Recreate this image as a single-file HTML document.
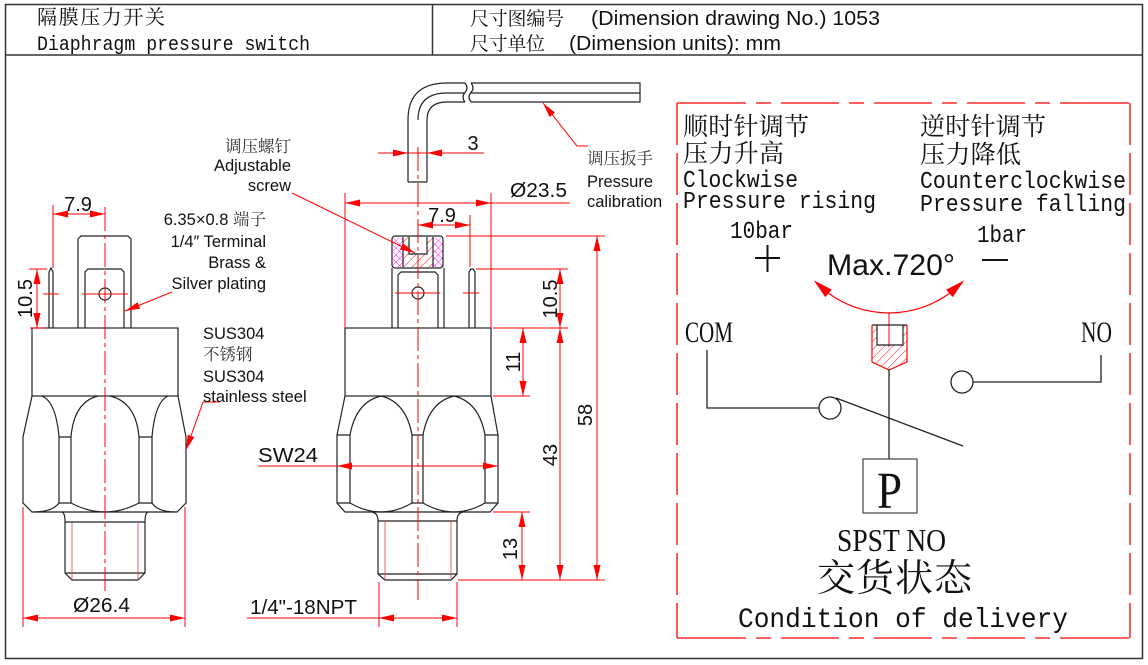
<!DOCTYPE html>
<html><head><meta charset="utf-8">
<style>
html,body{margin:0;padding:0;background:#fff;}
svg{display:block;}
</style></head><body>
<svg width="1148" height="665" viewBox="0 0 1148 665" xmlns="http://www.w3.org/2000/svg">
<defs>
<pattern id="rh" width="6" height="6" patternUnits="userSpaceOnUse" patternTransform="rotate(45)"><line x1="0" y1="0" x2="0" y2="6" stroke="#f00" stroke-width="1"/></pattern>
<pattern id="mh" width="5" height="5" patternUnits="userSpaceOnUse" patternTransform="rotate(45)"><line x1="0" y1="0" x2="0" y2="5" stroke="#f0f" stroke-width="0.9"/><line x1="0" y1="0" x2="5" y2="0" stroke="#f0f" stroke-width="0.9"/></pattern>
</defs>
<rect width="1148" height="665" fill="#fff"/>

<!-- Frame -->
<g stroke="#333" stroke-width="1.5" fill="none">
<rect x="5.5" y="4.5" width="1137" height="654"/>
<line x1="5" y1="55" x2="1142" y2="55"/>
<line x1="432.5" y1="4" x2="432.5" y2="55"/>
</g>

<!-- Header texts -->
<g fill="#111">
<text x="37" y="24" font-family="'Noto Serif CJK SC','Noto Sans CJK SC',serif" font-size="20" textLength="128">隔膜压力开关</text>
<text x="37" y="50" font-family="'Liberation Mono',monospace" font-size="20" textLength="273" lengthAdjust="spacingAndGlyphs">Diaphragm pressure switch</text>
<text x="470" y="25" font-family="'Noto Serif CJK SC','Noto Sans CJK SC',serif" font-size="19" textLength="94">尺寸图编号</text>
<text x="591" y="25" font-family="'Liberation Sans',Arial,sans-serif" font-size="20" textLength="289" lengthAdjust="spacingAndGlyphs">(Dimension drawing No.) 1053</text>
<text x="470" y="50" font-family="'Noto Serif CJK SC','Noto Sans CJK SC',serif" font-size="19" textLength="75">尺寸单位</text>
<text x="569" y="50" font-family="'Liberation Sans',Arial,sans-serif" font-size="20" textLength="212" lengthAdjust="spacingAndGlyphs">(Dimension units): mm</text>
</g>

<!-- LEFT VIEW black -->
<g stroke="#222" stroke-width="1.2" fill="none">
<path d="M78,328 V239 L81,236 H128 L131,239 V328"/>
<path d="M85,328 V272 L88,269 H121 L124,272 V328"/>
<circle cx="105" cy="294" r="6"/>
<path d="M49,328 V272 L51,268 L53,272 V328"/>
<rect x="32" y="328" width="146" height="68"/>
<path d="M32,396 L23,437 V503 L32,512 H177 L186,503 V437 L178,396"/>
<path d="M59,437 V503 M71,437 V503 M59,437 H71 M59,503 H71 M139,437 V503 M152,437 V503 M139,437 H152 M139,503 H152"/>
<path d="M42,396 Q56,402 59,437 M71,437 Q74,402 98,396 M110,396 Q136,402 139,437 M152,437 Q155,402 168,396"/>
<path d="M59,503 Q52,512 34,512 M71,503 Q105,521 139,503 M152,503 Q158,512 175,512"/>
<path d="M62,512 Q65,513 65,522 V573 L72,580 H138 L145,573 V522 Q145,513 148,512 M65,522 H145 M65,573 H145"/>
</g>
<path d="M72,522 V580 M138,522 V580" stroke="#d44" stroke-width="0.8" fill="none"/>

<!-- MIDDLE VIEW black -->
<g stroke="#222" stroke-width="1.2" fill="none">
<path d="M408,182 V120 Q408,83 447,83 H465 M427,182 V120 Q427,102 447,102 H465 M418,120 Q418,93 447,93 H465 M408,182 H427"/>
<path d="M465,83 Q469,88 465,92.5 Q461,97 465,102 M471,83 Q475,88 471,92.5 Q467,97 471,102"/>
<path d="M471,83 H640 V102 H471 M471,93 H640"/>
<path d="M392,328 V268 M444,328 V268"/>
<path d="M398,328 V275 L401,272 H435 L438,275 V328"/>
<circle cx="418" cy="293" r="6"/>
<path d="M469,328 V272 L471,269 H473 L475,272 V328"/>
</g>
<path d="M393,238 H403 V267 H393 Z M433,238 H443 V267 H433 Z" fill="url(#mh)"/>
<path d="M403,237 H433 V267 H403 Z M409,237 V254 H427 V237 Z" fill="url(#rh)" fill-rule="evenodd"/>
<g stroke="#222" stroke-width="1.2" fill="none">
<rect x="392" y="236" width="51" height="32" rx="3"/>
<path d="M409,237 V254 H427 V237"/>
<path d="M403,237 V267 M433,237 V267"/>
<rect x="345" y="328" width="146" height="68"/>
<path d="M345,396 L337,435 V503 L345,512 H490 L498,503 V435 L491,396"/>
<path d="M337,435 H350 M337,503 H350 M350,435 V503 M412,435 V503 M423,435 V503 M412,435 H423 M412,503 H423 M485,435 V503 M485,435 H498 M485,503 H498"/>
<path d="M350,435 Q356,402 381,396 Q406,402 412,435 M423,435 Q429,402 454,396 Q479,402 485,435"/>
<path d="M350,503 Q381,521 412,503 M423,503 Q454,521 485,503"/>
<path d="M372,512 Q378,513 378,521 V574 L385,580 H451 L457,574 V521 Q457,513 463,512 M378,521 H457 M378,574 H457"/>
</g>
<path d="M385,521 V580 M451,521 V580" stroke="#d44" stroke-width="0.8" fill="none"/>

<!-- RED dimension lines -->
<g stroke="#f00" stroke-width="1" fill="none">
<line x1="105" y1="207" x2="105" y2="592" stroke-dasharray="24 4 4 4"/>
<line x1="418" y1="147" x2="418" y2="600" stroke-dasharray="24 4 4 4"/>
<path d="M82,294 H128 M43,294 H59"/>
<path d="M53,205 V268 M53,214 H105"/>
<path d="M29,269 H47 M30,328 H45 M37,269 V328"/>
<path d="M172,292 L125,311"/>
<path d="M220,402 H203 L186,450"/>
<path d="M23,507 V627 M185,507 V627 M23,618 H185"/>
<path d="M378,153 H484"/>
<path d="M588,146 H577 L543,103"/>
<path d="M345,193 V328 M491,193 V328 M345,203 H570"/>
<path d="M470,215 V267 M418,225 H470"/>
<path d="M292,193 L415,253"/>
<path d="M395,293 H440 M463,293 H479"/>
<path d="M446,236 H605 M476,269 H568 M493,328 H568 M493,396 H530 M493,512 H530 M458,580 H605"/>
<path d="M597,236 V580 M560,269 V580 M523,328 V396 M522,512 V580"/>
<path d="M258,466 H498"/>
<path d="M247,618 H457 M379,582 V627 M457,582 V627"/>
</g>
<g fill="#f00">
<polygon points="53,214 68,210.5 68,217.5"/>
<polygon points="105,214 90,210.5 90,217.5"/>
<polygon points="37,269 33.5,284 40.5,284"/>
<polygon points="37,328 33.5,313 40.5,313"/>
<polygon points="125,311 140.2,308.6 137.6,302.2"/>
<polygon points="186,450 194.3,437.1 187.7,434.7"/>
<polygon points="23,618 38,614.5 38,621.5"/>
<polygon points="185,618 170,614.5 170,621.5"/>
<polygon points="408,153 393,149.5 393,156.5"/>
<polygon points="427,153 442,149.5 442,156.5"/>
<polygon points="543,103 555.05,112.6 549.55,116.97"/>
<polygon points="345,203 360,199.5 360,206.5"/>
<polygon points="491,203 476,199.5 476,206.5"/>
<polygon points="418,225 433,221.5 433,228.5"/>
<polygon points="470,225 455,221.5 455,228.5"/>
<polygon points="415,253 399.97,249.54 403.03,243.26"/>
<polygon points="597,236 593.5,251 600.5,251"/>
<polygon points="597,580 593.5,565 600.5,565"/>
<polygon points="560,269 556.5,284 563.5,284"/>
<polygon points="560,328 556.5,313 563.5,313"/>
<polygon points="560,328 556.5,343 563.5,343"/>
<polygon points="560,580 556.5,565 563.5,565"/>
<polygon points="523,328 519.5,343 526.5,343"/>
<polygon points="523,396 519.5,381 526.5,381"/>
<polygon points="522,512 518.5,527 525.5,527"/>
<polygon points="522,580 518.5,565 525.5,565"/>
<polygon points="337,466 352,462.5 352,469.5"/>
<polygon points="498,466 483,462.5 483,469.5"/>
<polygon points="379,618 394,614.5 394,621.5"/>
<polygon points="457,618 442,614.5 442,621.5"/>
</g>

<!-- Dimension texts -->
<g font-family="'Liberation Sans',Arial,sans-serif" font-size="20" fill="#111">
<text x="78" y="211" text-anchor="middle">7.9</text>
<text transform="translate(32,298.5) rotate(-90)" text-anchor="middle">10.5</text>
<text x="73" y="612" textLength="57" lengthAdjust="spacingAndGlyphs">Ø26.4</text>
<text x="473" y="150" text-anchor="middle">3</text>
<text x="510" y="197" textLength="57" lengthAdjust="spacingAndGlyphs">Ø23.5</text>
<text x="442" y="222" text-anchor="middle">7.9</text>
<text x="258" y="462" textLength="60" lengthAdjust="spacingAndGlyphs">SW24</text>
<text x="250" y="614" textLength="107" lengthAdjust="spacingAndGlyphs">1/4"-18NPT</text>
<text transform="translate(557,299) rotate(-90)" text-anchor="middle">10.5</text>
<text transform="translate(520,362) rotate(-90)" text-anchor="middle">11</text>
<text transform="translate(592,415) rotate(-90)" text-anchor="middle">58</text>
<text transform="translate(557,455) rotate(-90)" text-anchor="middle">43</text>
<text transform="translate(517,549) rotate(-90)" text-anchor="middle">13</text>
</g>

<!-- Callout texts -->
<g font-family="'Liberation Sans',Arial,sans-serif" font-size="16.5" fill="#111">
<text x="266" y="225" text-anchor="end">6.35×0.8 <tspan font-family="'Noto Serif CJK SC','Noto Sans CJK SC',serif" fill="#333">端子</tspan></text>
<text x="266" y="247" text-anchor="end">1/4″ Terminal</text>
<text x="266" y="268" text-anchor="end">Brass &amp;</text>
<text x="266" y="289" text-anchor="end">Silver plating</text>
<text x="203" y="339">SUS304</text>
<text x="203" y="360" font-family="'Noto Serif CJK SC','Noto Sans CJK SC',serif" fill="#333">不锈钢</text>
<text x="203" y="382">SUS304</text>
<text x="203" y="402">stainless steel</text>
<text x="291" y="152" text-anchor="end" font-family="'Noto Serif CJK SC','Noto Sans CJK SC',serif" fill="#333">调压螺钉</text>
<text x="291" y="171" text-anchor="end">Adjustable</text>
<text x="291" y="191" text-anchor="end">screw</text>
<text x="587" y="164" font-family="'Noto Serif CJK SC','Noto Sans CJK SC',serif" fill="#333">调压扳手</text>
<text x="587" y="187">Pressure</text>
<text x="587" y="207">calibration</text>
</g>

<!-- RIGHT PANEL -->
<g stroke="#f00" stroke-width="1.3" fill="none">
<line x1="677" y1="103" x2="1130" y2="103" stroke-dasharray="69 10 15 10 58 10 15 10 58 10 15 10 58 10 15 10 69"/>
<line x1="677" y1="638" x2="1130" y2="638" stroke-dasharray="69 10 15 10 58 10 15 10 58 10 15 10 58 10 15 10 69"/>
<line x1="677" y1="103" x2="677" y2="638" stroke-dasharray="42 8"/>
<line x1="1130" y1="103" x2="1130" y2="638" stroke-dasharray="42 8"/>
</g>

<g font-family="'Noto Serif CJK SC','Noto Sans CJK SC',serif" font-size="25" fill="#111">
<text x="683" y="135" textLength="126">顺时针调节</text>
<text x="683" y="162" textLength="101">压力升高</text>
<text x="920" y="135" textLength="126">逆时针调节</text>
<text x="920" y="163" textLength="101">压力降低</text>
<text x="817" y="591" font-size="38" textLength="155">交货状态</text>
</g>
<g font-family="'Liberation Mono',monospace" font-size="24" fill="#111">
<text x="683" y="187" textLength="115" lengthAdjust="spacingAndGlyphs">Clockwise</text>
<text x="683" y="208" textLength="193" lengthAdjust="spacingAndGlyphs">Pressure rising</text>
<text x="920" y="188" textLength="206" lengthAdjust="spacingAndGlyphs">Counterclockwise</text>
<text x="920" y="211" textLength="206" lengthAdjust="spacingAndGlyphs">Pressure falling</text>
<text x="730" y="238" textLength="63" lengthAdjust="spacingAndGlyphs">10bar</text>
<text x="977" y="242" textLength="50" lengthAdjust="spacingAndGlyphs">1bar</text>
<text x="738" y="627" font-size="28" textLength="330" lengthAdjust="spacingAndGlyphs">Condition of delivery</text>
</g>
<g font-family="'Liberation Serif',serif" fill="#111">
<text x="685" y="342" font-size="30" textLength="48" lengthAdjust="spacingAndGlyphs">COM</text>
<text x="1081" y="342" font-size="30" textLength="31" lengthAdjust="spacingAndGlyphs">NO</text>
<text x="877" y="508" font-size="52" textLength="25" lengthAdjust="spacingAndGlyphs">P</text>
<text x="837" y="551" font-size="32" textLength="109" lengthAdjust="spacingAndGlyphs">SPST NO</text>
</g>
<text x="827" y="275" font-family="'Liberation Sans',Arial,sans-serif" font-size="30" textLength="128" lengthAdjust="spacingAndGlyphs" fill="#111">Max.720°</text>

<g stroke="#111" stroke-width="2">
<line x1="755" y1="258" x2="780" y2="258"/>
<line x1="767.5" y1="245" x2="767.5" y2="272"/>
<line x1="982" y1="260" x2="1008" y2="260"/>
</g>

<path d="M828.6,293.4 A103,103 0 0 0 949.4,293.4" stroke="#f00" stroke-width="1.2" fill="none"/>
<polygon points="813.7,280.2 831.9,289.7 825.3,297.1" fill="#f00"/>
<polygon points="964.3,280.2 946.1,289.7 952.7,297.1" fill="#f00"/>
<line x1="889" y1="313" x2="889" y2="347" stroke="#f00" stroke-width="1"/>

<path d="M872,325 V362 L889,370 L907,362 V325 Z M877,325 V345 H903 V325 Z" fill="url(#rh)" fill-rule="evenodd"/>
<path d="M872,325 V362 L889,370 L907,362 V325" stroke="#f00" stroke-width="1.2" fill="none"/>
<path d="M872,325 H907 M877,325 V345 H903 V325" stroke="#222" stroke-width="1.2" fill="none"/>

<g stroke="#222" stroke-width="1.3" fill="none">
<line x1="889" y1="370" x2="889" y2="459"/>
<path d="M707,350 V408 H819"/>
<circle cx="830" cy="408" r="11" fill="#fff"/>
<line x1="836" y1="398" x2="963" y2="446"/>
<circle cx="962" cy="382" r="11"/>
<path d="M973,382 H1101 V355"/>
<rect x="863" y="459" width="54" height="54" stroke="#444" stroke-width="1.2"/>
</g>
</svg>
</body></html>
